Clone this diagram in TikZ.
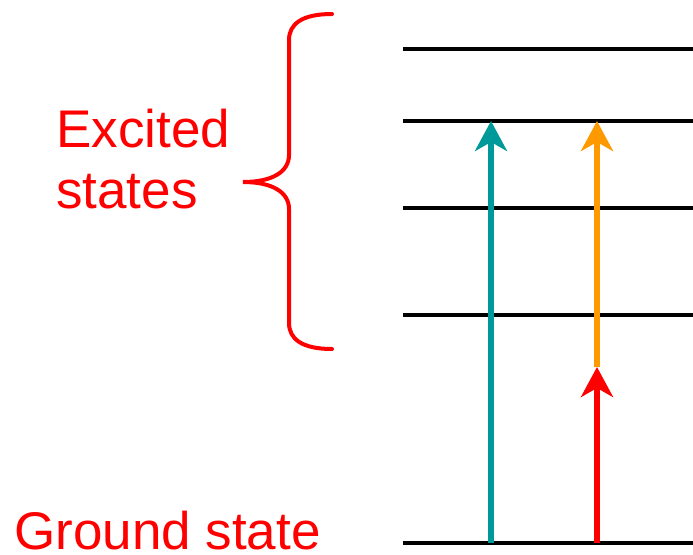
\documentclass[tikz,border=0pt]{standalone}
\usepackage{fontspec}
\setmainfont{Liberation Sans}
\usepackage{tikz}
\usetikzlibrary{arrows.meta}
\tikzset{>={Stealth[length=30pt,width=32pt,inset=9pt]},
  level/.style={line width=4pt, black},
  trans/.style={line width=6pt, ->},
  lbl/.style={text=red, inner sep=0pt, font=\fontsize{53}{61}\selectfont, align=left}}
\definecolor{tealup}{RGB}{0,153,153}
\definecolor{orangeup}{RGB}{255,153,0}

\begin{document}
\begin{tikzpicture}[x=1pt,y=-1pt]

    \useasboundingbox (0,0) rectangle (693,554);

    % energy levels
    \coordinate (g0) at (403,543);   \coordinate (g1) at (693,543);
    \coordinate (e1a) at (403,315);  \coordinate (e1b) at (693,315);
    \coordinate (e2a) at (403,208);  \coordinate (e2b) at (693,208);
    \coordinate (e3a) at (403,121);  \coordinate (e3b) at (693,121);
    \coordinate (e4a) at (403,49);   \coordinate (e4b) at (693,49);

    \draw [level] (g0) -- (g1);
    \draw [level] (e1a) -- (e1b);
    \draw [level] (e2a) -- (e2b);
    \draw [level] (e3a) -- (e3b);
    \draw [level] (e4a) -- (e4b);

    % transitions
    \coordinate (tA) at (491,543);  \coordinate (tB) at (491,121);
    \coordinate (rA) at (597,543);  \coordinate (rB) at (597,367);
    \coordinate (oB) at (597,121);

    \draw [trans, tealup] (tA) -- (tB);
    \draw [trans, red] (rA) -- (rB);
    \draw [trans, orangeup] (rB) -- (oB);

    % brace
    \draw [red, line width=4pt, line cap=round]
      (332,14) .. controls (302,14) and (289,24) .. (289,40) -- (289,155)
      .. controls (289,172) and (272,182) .. (243,182)
      .. controls (272,182) and (289,192) .. (289,209) -- (289,323)
      .. controls (289,339) and (302,349) .. (332,349);

    % labels
    \node [lbl, anchor=north west] (excited) at (56,109) {Excited\\states};
    \node [lbl, anchor=base west] (ground) at (14,549) {Ground state};

\end{tikzpicture}
\end{document}
